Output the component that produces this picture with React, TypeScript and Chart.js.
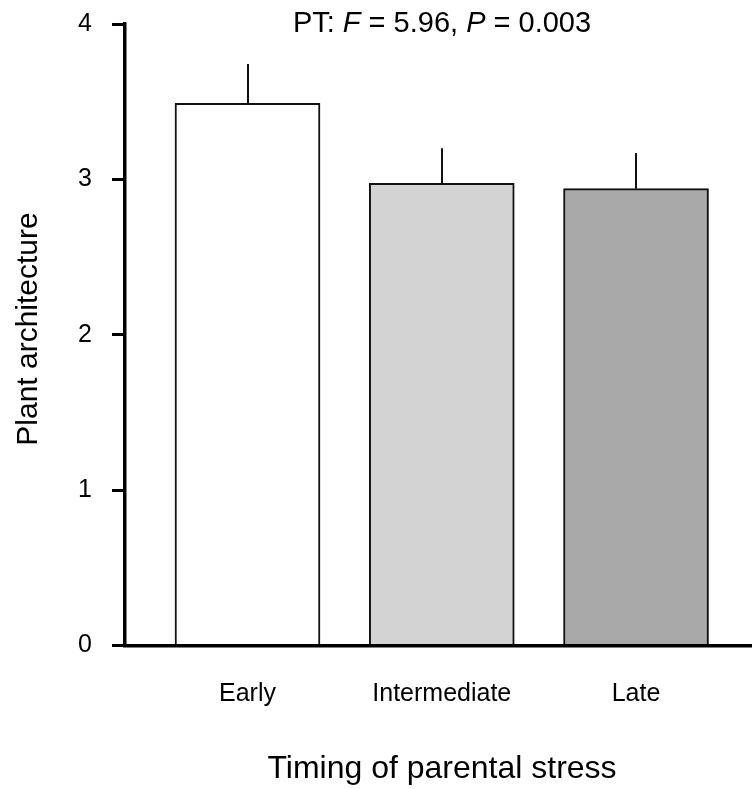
import React, { useEffect, useRef } from "react";
import { Chart, registerables } from "chart.js";

Chart.register(...registerables);

const categories = ["Early", "Intermediate", "Late"];
const means = [3.49, 2.974, 2.94];
const stdErrors = [0.252, 0.226, 0.23];
const barColors = ["#ffffff", "#d3d3d3", "#a9a9a9"];
const yTickValues = [0, 1, 2, 3, 4];
const titleParts = [
  { text: "PT: ", italic: false },
  { text: "F", italic: true },
  { text: " = 5.96, ", italic: false },
  { text: "P", italic: true },
  { text: " = 0.003", italic: false },
];
const xTitle = "Timing of parental stress";
const yTitle = "Plant architecture";

const FONT = "'Liberation Sans', Arial, Helvetica, sans-serif";

const errorBarPlugin = {
  id: "errorBars",
  afterDatasetsDraw(chart: any) {
    const { ctx } = chart;
    const xs = chart.scales.x;
    const ys = chart.scales.y;
    ctx.save();
    ctx.strokeStyle = "#111";
    ctx.lineWidth = 2;
    means.forEach((m, i) => {
      const x = Math.round(xs.getPixelForValue(i + 1));
      const y0 = ys.getPixelForValue(m);
      const y1 = ys.getPixelForValue(m + stdErrors[i]);
      ctx.beginPath();
      ctx.moveTo(x, y0);
      ctx.lineTo(x, y1);
      ctx.stroke();
    });
    ctx.restore();
  },
};

const textPlugin = {
  id: "texts",
  afterDraw(chart: any) {
    const { ctx } = chart;
    ctx.save();
    ctx.fillStyle = "#000";
    const size = 29;
    const fontFor = (it: boolean) => `${it ? "italic " : ""}${size}px ${FONT}`;
    let total = 0;
    titleParts.forEach((p) => {
      ctx.font = fontFor(p.italic);
      total += ctx.measureText(p.text).width;
    });
    let x = 442 - total / 2;
    ctx.textBaseline = "alphabetic";
    ctx.textAlign = "left";
    titleParts.forEach((p) => {
      ctx.font = fontFor(p.italic);
      ctx.fillText(p.text, x, 32);
      x += ctx.measureText(p.text).width;
    });
    ctx.font = `32px ${FONT}`;
    ctx.textAlign = "center";
    ctx.fillText(xTitle, 442, 777.5);
    ctx.translate(37, 329);
    ctx.rotate(-Math.PI / 2);
    ctx.font = `30px ${FONT}`;
    ctx.textAlign = "center";
    ctx.fillText(yTitle, 0, 0);
    ctx.restore();
  },
};

export default function App() {
  const ref = useRef<HTMLCanvasElement | null>(null);

  useEffect(() => {
    if (!ref.current) return;
    const chart = new Chart(ref.current, {
      type: "bar",
      data: {
        datasets: [
          {
            data: means.map((m, i) => ({ x: i + 1, y: m })),
            backgroundColor: barColors,
            borderColor: "#111",
            borderWidth: 2,
            barThickness: 145,
          } as any,
        ],
      },
      options: {
        animation: false,
        responsive: false,
        events: [],
        layout: { padding: { top: 24, left: 0, right: 0, bottom: 0 } },
        plugins: {
          legend: { display: false },
          tooltip: { enabled: false },
          title: { display: false },
        },
        scales: {
          x: {
            type: "linear",
            offset: false,
            min: 0.3694,
            max: 3.597,
            grid: { display: false, drawTicks: false, offset: false },
            border: { display: true, color: "#000", width: 3.5 },
            afterBuildTicks: (scale: any) => {
              scale.ticks = categories.map((_, i) => ({ value: i + 1 }));
            },
            afterFit: (scale: any) => {
              scale.height = 143.5;
              scale.paddingLeft = 0;
              scale.paddingRight = 0;
            },
            ticks: {
              autoSkip: false,
              maxRotation: 0,
              padding: 34,
              color: "#000",
              font: { family: FONT, size: 25 },
              callback: (v: any) => categories[Math.round(Number(v)) - 1] ?? "",
            },
          },
          y: {
            type: "linear",
            min: 0,
            max: 4,
            afterBuildTicks: (scale: any) => {
              scale.ticks = yTickValues.map((v) => ({ value: v }));
            },
            afterFit: (scale: any) => {
              scale.width = 125;
              scale.paddingTop = 0;
              scale.paddingBottom = 0;
            },
            grid: {
              display: true,
              drawOnChartArea: false,
              drawTicks: true,
              tickLength: 13,
              color: "#000",
              tickColor: "#000",
              lineWidth: 3,
              tickWidth: 3,
            },
            border: { display: true, color: "#000", width: 3.5 },
            ticks: {
              padding: 20,
              color: "#000",
              font: { family: FONT, size: 25 },
              callback: (v: any) => String(v),
            },
          },
        },
      } as any,
      plugins: [errorBarPlugin, textPlugin],
    });
    return () => chart.destroy();
  }, []);

  return (
    <canvas
      ref={ref}
      width={752}
      height={789}
      style={{ display: "block", position: "absolute", left: 0, top: 0, width: 752, height: 789 }}
    />
  );
}
